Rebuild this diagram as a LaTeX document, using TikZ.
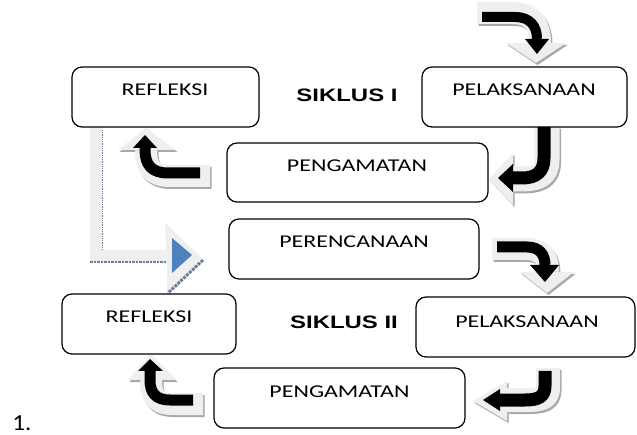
\documentclass[tikz,border=0pt]{standalone}
\usepackage{fontspec}
\usepackage{graphicx}
\setmainfont{Carlito}
\newfontfamily\headfont{Liberation Sans}
\definecolor{arrlight}{HTML}{EFEFEF}
\definecolor{arrshade}{HTML}{A8A8A8}
\definecolor{headblue}{HTML}{4F81BD}
\definecolor{dotblue}{HTML}{6F7E98}
\newcommand{\stretchtxt}[1]{\scalebox{1.33}[1]{#1}}
\begin{document}
\begin{tikzpicture}[x=1pt,y=-1pt,
  box/.style={draw=black, rounded corners=10pt, line width=1.2pt, inner sep=0pt, minimum height=60pt},
  lbl/.style={inner sep=0pt, font=\fontsize{18}{21}\selectfont},
  cyc/.style={inner sep=0pt, font=\headfont\bfseries\fontsize{18}{21}\selectfont},
  bar/.style={line cap=butt, line join=round}]
\useasboundingbox (0,0) rectangle (637,435);

% ---------- block arrows (shadow, light body, black arrow) ----------
\newcommand{\arrowA}[1]{%
  \draw[bar, #1, line width=22pt] (477,13) -- (512,13) .. controls (534,13) and (540,26) .. (540,43);
  \fill[#1] (506,43) -- (566,43) -- (536,63) -- cycle;}
\newcommand{\arrowB}[1]{%
  \draw[bar, #1, line width=25pt] (547,127) -- (547,160) .. controls (547,176) and (537,179) .. (520,179) -- (513,179);
  \fill[#1] (513,153) -- (513,205) -- (489,179) -- cycle;}
\newcommand{\arrowC}[1]{%
  \draw[bar, #1, line width=22pt] (210,176) -- (170,176) .. controls (150,176) and (146,165) .. (146,150);
  \fill[#1] (118,150) -- (176,150) -- (146,128) -- cycle;}
\newcommand{\arrowD}[1]{%
  \draw[bar, #1, line width=22pt] (492,249) -- (525,249) .. controls (545,249) and (548,260) .. (548,272);
  \fill[#1] (520,272) -- (574,272) -- (547,293) -- cycle;}
\newcommand{\arrowE}[1]{%
  \draw[bar, #1, line width=24pt] (548,368) -- (548,388) .. controls (548,399) and (540,400) .. (525,400) -- (507,400);
  \fill[#1] (507,381) -- (507,421) -- (473,401) -- cycle;}
\newcommand{\arrowF}[1]{%
  \draw[bar, #1, line width=22pt] (203,404) -- (172,404) .. controls (153,404) and (151,392) .. (151,380);
  \fill[#1] (128,380) -- (176,380) -- (151,354) -- cycle;}

\foreach \m in {\arrowA,\arrowB,\arrowC,\arrowD,\arrowE,\arrowF}{
  \begin{scope}[xshift=1.5pt, yshift=-2pt]\m{arrshade}\end{scope}
  \m{arrlight}
}

% black arrows
\draw[bar, black, line width=10pt] (482,17) -- (515,17) .. controls (530,17) and (537,26) .. (537,39);
\fill[black] (525,39) -- (549,39) -- (537,54) -- cycle;
\draw[bar, black, line width=13pt] (544,127) -- (544,158) .. controls (544,172) and (536,178) .. (522,178) -- (513,178);
\fill[black] (513,164) -- (513,192) -- (498,178) -- cycle;
\draw[bar, black, line width=11pt] (200,173) -- (168,173) .. controls (152,173) and (145,165) .. (145,150) -- (145,148);
\fill[black] (133,148) -- (157,148) -- (145,135) -- cycle;
\draw[bar, black, line width=11pt] (497,247) -- (527,247) .. controls (540,247) and (545,255) .. (545,265);
\fill[black] (530,265) -- (559,265) -- (545,282) -- cycle;
\draw[bar, black, line width=13pt] (545,371) -- (545,386) .. controls (545,397) and (538,400) .. (525,400) -- (500,400);
\fill[black] (500,389) -- (500,411) -- (483,400) -- cycle;
\draw[bar, black, line width=11pt] (193,400) -- (170,400) .. controls (155,400) and (150,392) .. (150,380) -- (150,371);
\fill[black] (138,371) -- (163,371) -- (150,359) -- cycle;

% big bent arrow from REFLEKSI I to PERENCANAAN
\fill[arrlight] (90,128) -- (102,128) -- (102,250) -- (166,250) -- (165,223) -- (202,258)
  -- (167,292) -- (167,262) -- (90,262) -- cycle;
\fill[headblue] (172,238) -- (192,255) -- (172,273) -- cycle;
\draw[dotblue, line width=0.8pt, densely dotted] (102,130) -- (102,250);
\draw[dotblue, line width=2.5pt, densely dotted] (90,262) -- (167,262);
\draw[dotblue, line width=3pt, densely dotted] (203,260) -- (168,293);

% ---------- boxes ----------
\node[box, minimum width=187pt] (ref1) at (165.5,97) {};
\node[box, minimum width=205pt] (pel1) at (524.5,97) {};
\node[box, minimum width=261pt, minimum height=59pt] (pen1) at (357.5,172.5) {};
\node[box, minimum width=250pt] (per) at (354,249) {};
\node[box, minimum width=174pt] (ref2) at (149,324) {};
\node[box, minimum width=219pt] (pel2) at (525.5,327) {};
\node[box, minimum width=251pt] (pen2) at (339.5,398) {};

% ---------- labels ----------
\node[lbl] (ref1t) at (165,90) {\stretchtxt{REFLEKSI}};
\node[lbl] (pel1t) at (524,90) {\stretchtxt{PELAKSANAAN}};
\node[lbl] (pen1t) at (357,166) {\stretchtxt{PENGAMATAN}};
\node[lbl] (pert) at (354,241.5) {\stretchtxt{PERENCANAAN}};
\node[lbl] (ref2t) at (149,316.5) {\stretchtxt{REFLEKSI}};
\node[lbl] (pel2t) at (527,321.5) {\stretchtxt{PELAKSANAAN}};
\node[lbl] (pen2t) at (339.5,392) {\stretchtxt{PENGAMATAN}};
\node[cyc] (sik1) at (347,95) {\stretchtxt{SIKLUS I}};
\node[cyc] (sik2) at (344,322.5) {\stretchtxt{SIKLUS II}};
\node[inner sep=0pt, font=\fontsize{23}{25}\selectfont] (num) at (22,423) {\scalebox{1.1}[1]{1.}};
\end{tikzpicture}
\end{document}
